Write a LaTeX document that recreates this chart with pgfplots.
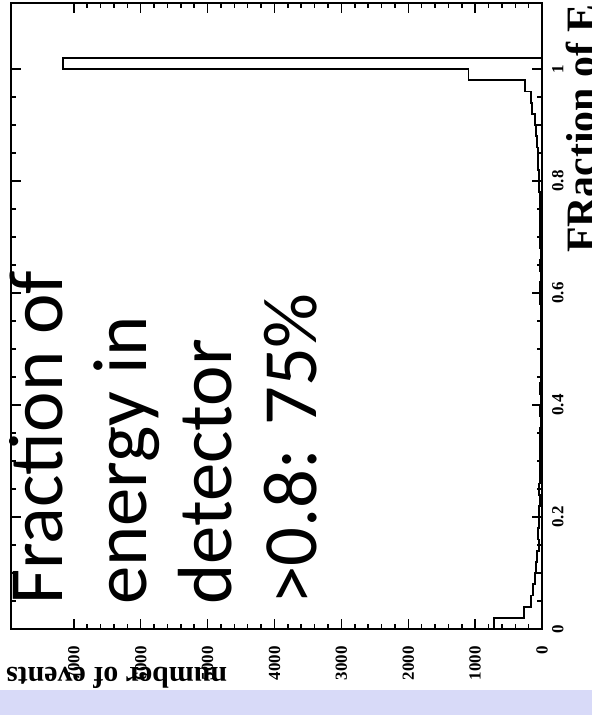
\documentclass[border=0pt]{standalone}
\usepackage{pgfplots}
\pgfplotsset{compat=1.18}
\usepackage{fontspec}
\setmainfont{Liberation Serif}
\newfontfamily\carlito{Carlito}
\definecolor{band}{RGB}{216,218,248}

\begin{document}
\begin{tikzpicture}[x=1bp,y=1bp]
\useasboundingbox (0,0) rectangle (592,715);
\fill[white] (0,0) rectangle (592,715);
\begin{axis}[
  at={(11bp,86bp)}, anchor=south west,
  scale only axis, width=531bp, height=626bp,
  xmin=0, xmax=7940, x dir=reverse,
  ymin=0, ymax=1.118,
  xtick={0,1000,2000,3000,4000,5000,6000,7000},
  ytick={0,0.2,0.4,0.6,0.8,1},
  minor x tick num=4, minor y tick num=3,
  major tick length=10bp, minor tick length=5bp,
  tick style={line width=1.5bp, black},
  axis line style={line width=1.8bp},
  yticklabel pos=right,
  xticklabel style={font=\bfseries\fontsize{17}{17}\selectfont, yshift=-17bp, rotate=90, anchor=east, inner sep=0pt},
  yticklabel style={font=\bfseries\fontsize{17}{17}\selectfont, xshift=10bp, rotate=90, anchor=north, inner sep=0pt},
  /pgf/number format/assume math mode=true,
  /pgf/number format/1000 sep={},
]
\addplot[const plot mark right, black, line width=1.8bp, mark=none] table {
c e
0 0
716 0
270 0.02
160 0.04
130 0.06
100 0.08
90 0.10
75 0.12
50 0.14
55 0.16
40 0.18
45 0.20
35 0.22
40 0.24
30 0.26
35 0.28
25 0.30
30 0.32
25 0.34
20 0.36
25 0.38
20 0.40
30 0.42
20 0.44
15 0.46
20 0.48
15 0.50
20 0.52
15 0.54
20 0.56
25 0.58
30 0.60
20 0.62
25 0.64
20 0.66
30 0.68
25 0.70
30 0.72
35 0.74
30 0.76
40 0.78
45 0.80
55 0.82
65 0.84
80 0.86
95 0.88
110 0.90
150 0.92
170 0.94
250 0.96
1100 0.98
7164 1.00
0 1.02
};
\end{axis}
\node[rotate=90, anchor=north west, inner sep=0pt, align=left,
      font=\carlito\fontsize{77}{85}\selectfont] at (9,110)
  {Fraction of\\energy in\\detector\\>0.8: 75\%};
\node[rotate=180, anchor=base east, inner sep=0pt,
      font=\bfseries\fontsize{30}{30}\selectfont] at (6,47) {number of events};
\node[rotate=90, anchor=north east, inner sep=0pt,
      font=\bfseries\fontsize{42}{42}\selectfont] at (566,711) {FRaction of E};
\fill[band] (0,0) rectangle (592,25);
\end{tikzpicture}
\end{document}
